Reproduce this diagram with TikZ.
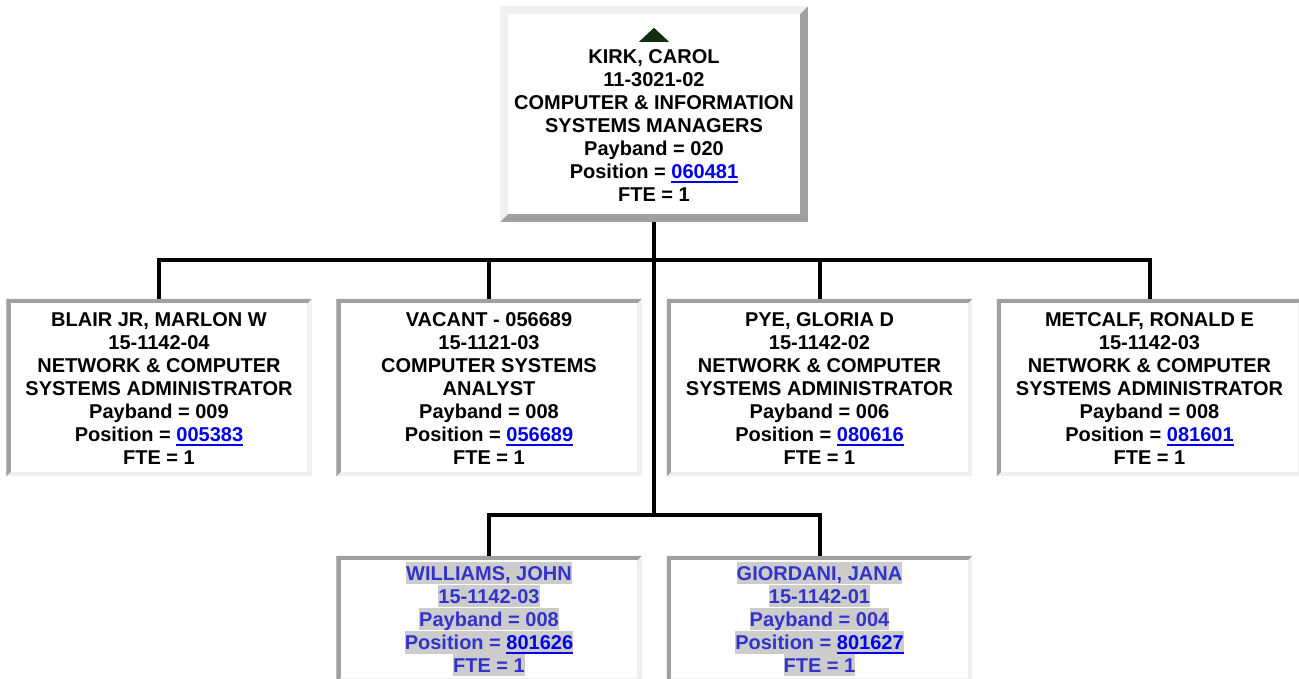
\documentclass[tikz,border=0pt]{standalone}
\usepackage{fontspec}
\setmainfont{Liberation Sans}
\usetikzlibrary{backgrounds}
\definecolor{lightb}{HTML}{F0F0F0}
\definecolor{darkb}{HTML}{A0A0A0}
\definecolor{linkc}{HTML}{0000EE}
\definecolor{subc}{HTML}{3333CC}
\definecolor{hlc}{HTML}{CCCCCC}
\definecolor{tric}{HTML}{0F2F0F}
\setlength\fboxsep{0pt}
\newcommand\poslink[1]{{\color{linkc}\setbox0\hbox{#1}\rlap{\rule[-4.5pt]{\wd0}{2pt}}\box0}}
\newcommand\hlline[1]{\colorbox{hlc}{\rule[-4pt]{0pt}{22pt}#1}}
\newcommand\cardframe[4]{%
  \fill[#3] (#1.north west) rectangle (#1.south east);
  \fill[#2] (#1.north west) -- (#1.north east) -- ([xshift=-#4,yshift=-#4]#1.north east)
    -- ([xshift=#4,yshift=-#4]#1.north west) -- ([xshift=#4,yshift=#4]#1.south west)
    -- (#1.south west) -- cycle;
  \fill[white] ([xshift=#4,yshift=-#4]#1.north west) rectangle ([xshift=-#4,yshift=#4]#1.south east);
}
\begin{document}
\begin{tikzpicture}[x=1pt,y=-1pt,
  card/.style={inner sep=0pt, align=center, font=\fontsize{20}{23}\selectfont\bfseries},
  topcard/.style={card, minimum width=308pt, minimum height=216pt},
  midcard/.style={card, minimum width=305pt, minimum height=177pt},
  lowcard/.style={card, minimum width=305pt, minimum height=126pt, text=subc},
  conn/.style={line width=4pt, black}]
\useasboundingbox (0,0) rectangle (1299,679);

\node[topcard] (kirk) at (654,114) {\rule{0pt}{37pt}KIRK, CAROL\\11-3021-02\\COMPUTER \& INFORMATION\\SYSTEMS MANAGERS\\Payband = 020\\Position = \poslink{060481}\\FTE = 1};

\node[midcard] (blair) at (159,387.5) {\rule{0pt}{18pt}BLAIR JR, MARLON W\\15-1142-04\\NETWORK \& COMPUTER\\SYSTEMS ADMINISTRATOR\\Payband = 009\\Position = \poslink{005383}\\FTE = 1\rule[-3pt]{0pt}{3pt}};
\node[midcard] (vacant) at (489,387.5) {\rule{0pt}{18pt}VACANT - 056689\\15-1121-03\\COMPUTER SYSTEMS\\ANALYST\\Payband = 008\\Position = \poslink{056689}\\FTE = 1\rule[-3pt]{0pt}{3pt}};
\node[midcard] (pye) at (819.5,387.5) {\rule{0pt}{18pt}PYE, GLORIA D\\15-1142-02\\NETWORK \& COMPUTER\\SYSTEMS ADMINISTRATOR\\Payband = 006\\Position = \poslink{080616}\\FTE = 1\rule[-3pt]{0pt}{3pt}};
\node[midcard] (metcalf) at (1149.5,387.5) {\rule{0pt}{18pt}METCALF, RONALD E\\15-1142-03\\NETWORK \& COMPUTER\\SYSTEMS ADMINISTRATOR\\Payband = 008\\Position = \poslink{081601}\\FTE = 1\rule[-3pt]{0pt}{3pt}};

\node[lowcard] (williams) at (489,619) {\hlline{WILLIAMS, JOHN}\\\hlline{15-1142-03}\\\hlline{Payband = 008}\\\hlline{Position = \poslink{801626}}\\\hlline{FTE = 1}};
\node[lowcard] (giordani) at (819.5,619) {\hlline{GIORDANI, JANA}\\\hlline{15-1142-01}\\\hlline{Payband = 004}\\\hlline{Position = \poslink{801627}}\\\hlline{FTE = 1}};

\begin{scope}[on background layer]
  \fill[white] (0,0) rectangle (1299,679);
  \cardframe{kirk}{lightb}{darkb}{8pt}
  \cardframe{blair}{darkb}{lightb}{4.5pt}
  \cardframe{vacant}{darkb}{lightb}{4.5pt}
  \cardframe{pye}{darkb}{lightb}{4.5pt}
  \cardframe{metcalf}{darkb}{lightb}{4.5pt}
  \cardframe{williams}{darkb}{lightb}{4.5pt}
  \cardframe{giordani}{darkb}{lightb}{4.5pt}
\end{scope}

\fill[tric] ([yshift=-22pt]kirk.north) -- ([xshift=15pt,yshift=-36pt]kirk.north)
  -- ([xshift=-15pt,yshift=-36pt]kirk.north) -- cycle;

\coordinate (bus) at (654,260);
\coordinate (bus2) at (654,515);
\draw[conn] (kirk.south) -- (bus2);
\draw[conn] (blair.north) -- (blair.north |- bus) -- (metcalf.north |- bus) -- (metcalf.north);
\draw[conn] (vacant.north) -- (vacant.north |- bus);
\draw[conn] (pye.north) -- (pye.north |- bus);
\draw[conn] (williams.north) -- (williams.north |- bus2) -- (giordani.north |- bus2) -- (giordani.north);
\end{tikzpicture}
\end{document}
